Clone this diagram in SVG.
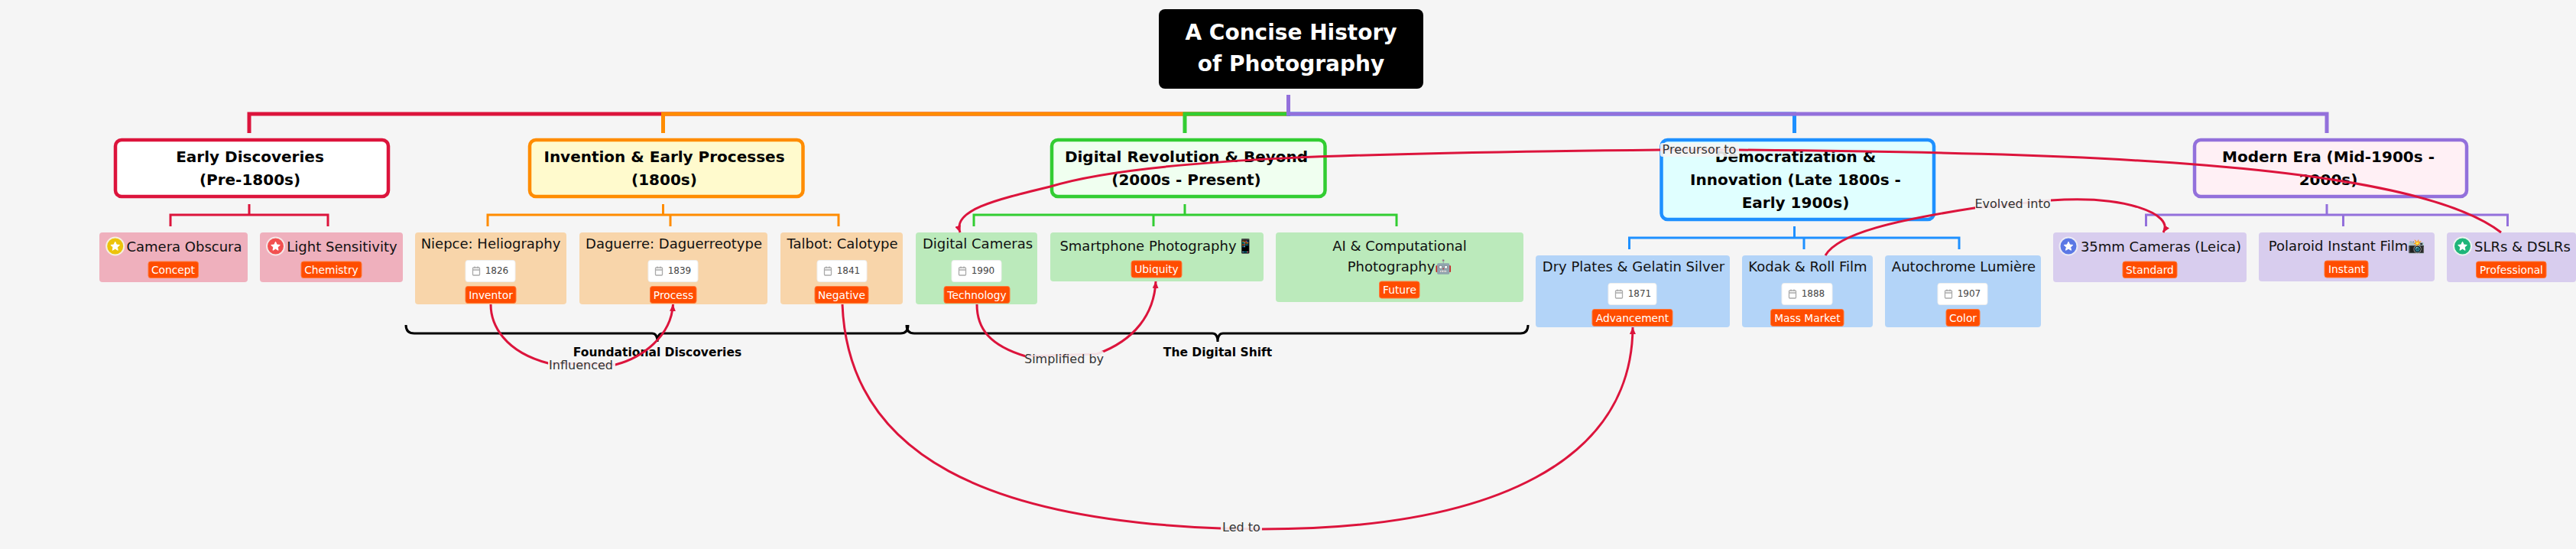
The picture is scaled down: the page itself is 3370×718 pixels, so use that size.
<svg xmlns="http://www.w3.org/2000/svg" width="3370" height="718" viewBox="0 0 3370 718">
<style>
text{font-family:"DejaVu Sans","Liberation Sans",sans-serif;text-anchor:middle}
.t{font-size:20px;font-weight:700;fill:#000}
.h{font-size:28px;font-weight:700;fill:#fff}
.l{font-size:18px;fill:#111}
.tag{fill:#ff4d00;stroke:#ff7a3d;stroke-width:1}
.tt{font-size:13.800px;fill:#fff}
.yb{fill:#fff;stroke:#eee;stroke-width:1}
.yt{font-size:12px;fill:#444}
.cal{fill:none;stroke:#aaa;stroke-width:1.300}
.c{fill:none;stroke-width:3}
.top{fill:none;stroke-width:5}
.bc{fill:none;stroke:#000;stroke-width:3}
.bl{font-size:15.500px;font-weight:700;fill:#000}
.e{fill:none;stroke:#dc143c;stroke-width:3}
.el{font-size:16px;fill:#333}
.elb{fill:#f5f5f5;fill-opacity:.9}
.n{stroke-width:4.500}
.star{fill:#fff;stroke:#fff;stroke-width:1;stroke-linejoin:round}
.ic{stroke-width:2}
</style>
<defs>
<marker id="arr" viewBox="0 0 9 8" refX="9" refY="4" markerWidth="9" markerHeight="8" markerUnits="userSpaceOnUse" orient="auto"><path d="M0 0L9 4L0 8Z" fill="#dc143c"/></marker>
<path id="s" d="M0-5.800L1.700-2 5.800-1.500 2.700 1.200 3.500 5.300 0 3.200-3.500 5.300-2.700 1.200-5.800-1.500-1.700-2Z"/>
<g id="calico"><rect class="cal" x="-4.500" y="-4" width="9" height="10" rx="1"/><path class="cal" d="M-4.500-1H4.500M-2-5.500V-3M2-5.500V-3"/></g>
</defs>
<rect width="3370" height="718" fill="#f5f5f5"/>

<g id="root"><rect x="1516" y="12" width="346" height="104" rx="8" fill="#000"/><text class="h" x="1689" y="52">A Concise History</text><text class="h" x="1689" y="93">of Photography</text></g>

<g id="connectors">
<g class="top">
<path stroke="#dc143c" d="M1685.500 124V149H326V174"/>
<path stroke="#ff8c00" d="M1685.500 124V149H867.500V174"/>
<path stroke="#32cd32" d="M1685.500 124V149H1550V174"/>
<path stroke="#1e90ff" d="M1685.500 124V149H2347.500V174"/>
<path stroke="#9370db" d="M1685.500 124V149H3044V174"/>
</g>
<g class="c" stroke="#dc143c"><path d="M326 267V281H223V296M326 281H429V296"/></g>
<g class="c" stroke="#ff8c00"><path d="M867.500 267V281H638V296M867.500 281H877V296M877 281H1097V296"/></g>
<g class="c" stroke="#32cd32"><path d="M1550 267V281H1274V296M1550 281H1509V296M1550 281H1827V296"/></g>
<g class="c" stroke="#1e90ff"><path d="M2347.500 296V311H2131.500V326M2347.500 311H2360V326M2360 311H2563V326"/></g>
<g class="c" stroke="#9370db"><path d="M3044 267V281H2807.500V296M3044 281H3065.500V296M3065.500 281H3280.500V296"/></g>
</g>

<g id="n-early"><rect class="n" x="151" y="183" width="357" height="74" rx="8" fill="#fff" stroke="#dc143c"/><text class="t" x="327" y="212">Early Discoveries</text><text class="t" x="327" y="242">(Pre-1800s)</text></g>
<g id="n-invention"><rect class="n" x="693" y="183" width="357.500" height="74" rx="8" fill="#fffacd" stroke="#ff8c00"/><text class="t" x="869" y="212">Invention &amp; Early Processes</text><text class="t" x="869" y="242">(1800s)</text></g>
<g id="n-digital"><rect class="n" x="1376" y="183" width="357.500" height="74" rx="8" fill="#f0fff0" stroke="#32cd32"/><text class="t" x="1552" y="212">Digital Revolution &amp; Beyond</text><text class="t" x="1552" y="242">(2000s - Present)</text></g>
<g id="n-demo"><rect class="n" x="2173.500" y="183" width="356.500" height="104" rx="8" fill="#e0ffff" stroke="#1e90ff"/><text class="t" x="2349" y="212">Democratization &amp;</text><text class="t" x="2349" y="242">Innovation (Late 1800s -</text><text class="t" x="2349" y="272">Early 1900s)</text></g>
<g id="n-modern"><rect class="n" x="2871" y="183" width="356" height="74" rx="8" fill="#fff0f5" stroke="#9370db"/><text class="t" x="3046" y="212">Modern Era (Mid-1900s -</text><text class="t" x="3046" y="242">2000s)</text></g>

<g id="leaf-obscura"><rect x="130" y="304" width="194" height="65" rx="4" fill="#efb0bd"/><circle class="ic" cx="150.700" cy="322" r="11.500" fill="#ecc30b" stroke="#f5f0e0"/><use href="#s" class="star" x="150.700" y="322"/><text class="l" x="241" y="329">Camera Obscura</text><rect class="tag" x="194" y="342" width="65.500" height="21.500" rx="3"/><text class="tt" x="226.500" y="358">Concept</text></g>
<g id="leaf-light"><rect x="340" y="304" width="187" height="65" rx="4" fill="#efb0bd"/><circle class="ic" cx="360.500" cy="322" r="11.500" fill="#f25050" stroke="#f5e8e8"/><use href="#s" class="star" x="360.500" y="322"/><text class="l" x="447.500" y="329">Light Sensitivity</text><rect class="tag" x="394" y="342" width="79" height="21.500" rx="3"/><text class="tt" x="433.500" y="358">Chemistry</text></g>

<g id="leaf-niepce"><rect x="543" y="304" width="198" height="94" rx="4" fill="#f8d5aa"/><text class="l" x="642" y="325">Niepce: Heliography</text><rect class="yb" x="609" y="340.500" width="65" height="28" rx="3"/><use href="#calico" x="623" y="354"/><text class="yt" x="650" y="358">1826</text><rect class="tag" x="609" y="374.500" width="66" height="22" rx="3"/><text class="tt" x="642" y="391">Inventor</text></g>
<g id="leaf-daguerre"><rect x="758" y="304" width="246" height="94" rx="4" fill="#f8d5aa"/><text class="l" x="881.500" y="325">Daguerre: Daguerreotype</text><rect class="yb" x="848" y="340.500" width="65" height="28" rx="3"/><use href="#calico" x="862" y="354"/><text class="yt" x="889" y="358">1839</text><rect class="tag" x="850.500" y="374.500" width="60.500" height="22" rx="3"/><text class="tt" x="881" y="391">Process</text></g>
<g id="leaf-talbot"><rect x="1021" y="304" width="160" height="94" rx="4" fill="#f8d5aa"/><text class="l" x="1102" y="325">Talbot: Calotype</text><rect class="yb" x="1069" y="340.500" width="65" height="28" rx="3"/><use href="#calico" x="1083" y="354"/><text class="yt" x="1110" y="358">1841</text><rect class="tag" x="1066" y="374.500" width="70" height="22" rx="3"/><text class="tt" x="1101" y="391">Negative</text></g>

<g id="leaf-digicam"><rect x="1198" y="304" width="159" height="94" rx="4" fill="#bbeabb"/><text class="l" x="1279" y="325">Digital Cameras</text><rect class="yb" x="1245" y="340.500" width="65" height="28" rx="3"/><use href="#calico" x="1259" y="354"/><text class="yt" x="1286" y="358">1990</text><rect class="tag" x="1235" y="374.500" width="86" height="22" rx="3"/><text class="tt" x="1278" y="391">Technology</text></g>
<g id="leaf-phone"><rect x="1374" y="304" width="279" height="64" rx="4" fill="#bbeabb"/><text class="l" x="1513" y="328">Smartphone Photography📱</text><rect class="tag" x="1480" y="341" width="66" height="22" rx="3"/><text class="tt" x="1513" y="357">Ubiquity</text></g>
<g id="leaf-ai"><rect x="1669" y="304" width="324" height="91" rx="4" fill="#bbeabb"/><text class="l" x="1831" y="328">AI &amp; Computational</text><text class="l" x="1831" y="355">Photography🤖</text><rect class="tag" x="1804.500" y="368" width="52.500" height="22" rx="3"/><text class="tt" x="1831" y="384">Future</text></g>

<g id="leaf-dry"><rect x="2009" y="334" width="254" height="94" rx="4" fill="#b3d4f8"/><text class="l" x="2137" y="355">Dry Plates &amp; Gelatin Silver</text><rect class="yb" x="2104" y="370.500" width="63" height="28" rx="3"/><use href="#calico" x="2118" y="384"/><text class="yt" x="2145" y="388">1871</text><rect class="tag" x="2083" y="404.500" width="105" height="22" rx="3"/><text class="tt" x="2135.500" y="421">Advancement</text></g>
<g id="leaf-kodak"><rect x="2279" y="334" width="171" height="94" rx="4" fill="#b3d4f8"/><text class="l" x="2365" y="355">Kodak &amp; Roll Film</text><rect class="yb" x="2331" y="370.500" width="66" height="28" rx="3"/><use href="#calico" x="2345" y="384"/><text class="yt" x="2372" y="388">1888</text><rect class="tag" x="2316.500" y="404.500" width="95.500" height="22" rx="3"/><text class="tt" x="2364.500" y="421">Mass Market</text></g>
<g id="leaf-auto"><rect x="2466" y="334" width="204" height="94" rx="4" fill="#b3d4f8"/><text class="l" x="2569" y="355">Autochrome Lumière</text><rect class="yb" x="2535" y="370.500" width="65" height="28" rx="3"/><use href="#calico" x="2549" y="384"/><text class="yt" x="2576" y="388">1907</text><rect class="tag" x="2546" y="404.500" width="44" height="22" rx="3"/><text class="tt" x="2568" y="421">Color</text></g>

<g id="leaf-35"><rect x="2686" y="304" width="253" height="65" rx="4" fill="#d8cdee"/><circle class="ic" cx="2706" cy="322" r="11.500" fill="#5b78e5" stroke="#ecebf5"/><use href="#s" class="star" x="2706" y="322"/><text class="l" x="2827" y="329">35mm Cameras (Leica)</text><rect class="tag" x="2777" y="342" width="71" height="21.500" rx="3"/><text class="tt" x="2812.500" y="358">Standard</text></g>
<g id="leaf-polaroid"><rect x="2955" y="304" width="230" height="64" rx="4" fill="#d8cdee"/><text class="l" x="3070" y="328">Polaroid Instant Film📸</text><rect class="tag" x="3041" y="341" width="57" height="22" rx="3"/><text class="tt" x="3070" y="357">Instant</text></g>
<g id="leaf-slr"><rect x="3201" y="304" width="169" height="65" rx="4" fill="#d8cdee"/><circle class="ic" cx="3221.500" cy="322" r="11.500" fill="#1fb57a" stroke="#ecf5ef"/><use href="#s" class="star" x="3221.500" y="322"/><text class="l" x="3300" y="329">SLRs &amp; DSLRs</text><rect class="tag" x="3239.500" y="342" width="91.500" height="21.500" rx="3"/><text class="tt" x="3285.500" y="358">Professional</text></g>

<g id="braces">
<path class="bc" d="M531 425Q531 436 542 436H853Q860 436 860 447Q860 436 867 436H1178Q1188 436 1188 425"/>
<path class="bc" d="M1186 425Q1186 436 1196 436H1586Q1593 436 1593 447Q1593 436 1600 436H1989Q1999 436 1999 425"/>
<text class="bl" x="860" y="466">Foundational Discoveries</text>
<text class="bl" x="1593" y="466">The Digital Shift</text>
</g>

<g id="edges">
<path class="e" d="M642 398C642 425 660 460 717 475L805 477C840 468 878 440 880.500 398" marker-end="url(#arr)"/>
<path class="e" d="M1102 398C1110 600 1300 680 1597 691L1651 692C1960 692 2135 600 2136 428" marker-end="url(#arr)"/>
<path class="e" d="M1278 398C1278 430 1295 452 1342 466L1435 463C1485 445 1510 410 1512 368" marker-end="url(#arr)"/>
<path class="e" d="M3272 304C3150 210 2700 200 2273 196L2172 196C1800 200 1500 205 1374 244C1300 262 1246 275 1256 304" marker-end="url(#arr)"/>
<path class="e" d="M2388 334C2405 305 2480 288 2583 272L2683 262C2780 255 2845 280 2830 304" marker-end="url(#arr)"/>
<rect class="elb" x="717" y="468" width="88" height="19" rx="3"/><text class="el" x="760" y="483">Influenced</text>
<rect class="elb" x="1597" y="680" width="54" height="19" rx="3"/><text class="el" x="1624" y="695">Led to</text>
<rect class="elb" x="1341" y="459" width="103" height="20" rx="3"/><text class="el" x="1392" y="475">Simplified by</text>
<rect class="elb" x="2172" y="187" width="103" height="18" rx="3"/><text class="el" x="2223" y="201">Precursor to</text>
<rect class="elb" x="2584" y="257" width="99" height="19" rx="3"/><text class="el" x="2633" y="272">Evolved into</text>
</g>
</svg>
